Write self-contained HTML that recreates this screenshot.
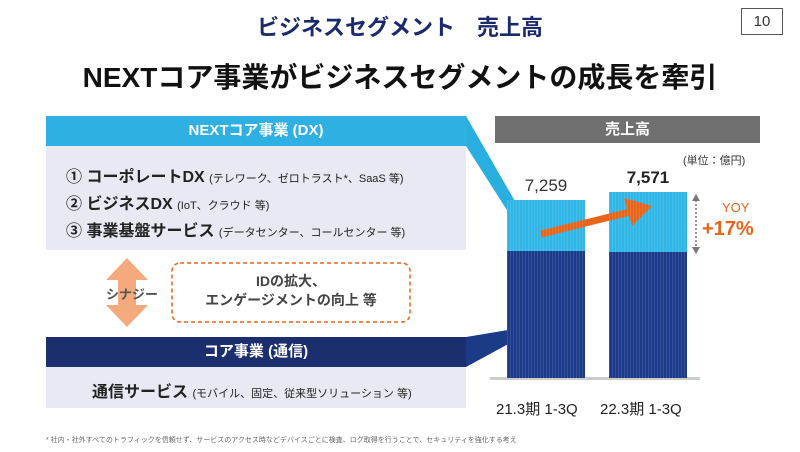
<!DOCTYPE html>
<html><head><meta charset="utf-8"><style>
body{margin:0;width:800px;height:452px;background:#fff;position:relative;overflow:hidden;font-family:"Liberation Sans","Noto Sans CJK JP",sans-serif;}
.a{position:absolute;white-space:nowrap}
.bar{position:absolute;background:repeating-linear-gradient(90deg,rgba(255,255,255,.12) 0 1px,transparent 1px 3px)}
</style></head><body>
<div class="a" style="left:0;width:800px;top:10px;text-align:center;font-size:22px;font-weight:bold;color:#1a2a6c">ビジネスセグメント　売上高</div>
<div class="a" style="left:741px;top:8px;width:40px;height:25px;border:1px solid #555;text-align:center;font-size:15px;line-height:25px;color:#333">10</div>
<div class="a" style="left:0;width:800px;top:56px;text-align:center;font-size:28px;font-weight:bold;color:#111">NEXTコア事業がビジネスセグメントの成長を牽引</div>

<svg class="a" style="left:0;top:0" width="800" height="452">
<polygon points="466,116 466,146 510,215 520,210" fill="#29aee0"/>
<polygon points="466,337 466,367 512,342 508,330" fill="#1b3b86"/>
<rect x="495" y="116" width="265" height="27" fill="#707070"/>
<rect x="490" y="377" width="210" height="3" fill="#ccc"/>
<rect x="507" y="200" width="78" height="51" fill="#2fb6e6"/>
<rect x="507" y="251" width="78" height="127" fill="#1c3a8a"/>
<rect x="609" y="192" width="78" height="60" fill="#2fb6e6"/>
<rect x="609" y="252" width="78" height="126" fill="#1c3a8a"/>
<line x1="541" y1="234" x2="630" y2="212" stroke="#e8641b" stroke-width="7"/>
<polygon points="652,206 624,198 632,226" fill="#e8641b"/>
<line x1="696" y1="200" x2="696" y2="248" stroke="#777" stroke-width="1.5" stroke-dasharray="2,2"/>
<polygon points="692,201 700,201 696,194" fill="#777"/><polygon points="692,247 700,247 696,254" fill="#777"/>
<polygon points="127,258 148,280 136,280 136,305 148,305 127,327 106,305 118,305 118,280 106,280" fill="#f5aa7e"/>
<rect x="172" y="263" width="238" height="59" rx="8" fill="none" stroke="#e8641b" stroke-width="1.5" stroke-dasharray="4,3"/>
</svg>
<div class="bar" style="left:507px;top:200px;width:78px;height:178px"></div>
<div class="bar" style="left:609px;top:192px;width:78px;height:186px"></div>
<div class="a" style="left:495px;top:116px;width:265px;line-height:27px;text-align:center;color:#fff;font-weight:bold;font-size:15px">売上高</div>
<div class="a" style="left:683px;top:152px;font-size:11px;color:#333">(単位：億円)</div>
<div class="a" style="left:507px;width:78px;top:176px;text-align:center;font-size:17px;color:#333">7,259</div>
<div class="a" style="left:609px;width:78px;top:168px;text-align:center;font-size:17px;font-weight:bold;color:#222">7,571</div>
<div class="a" style="left:722px;top:200px;font-size:13px;color:#e8641b">YOY</div>
<div class="a" style="left:702px;top:218px;font-size:20px;font-weight:bold;color:#e8641b">+17%</div>
<div class="a" style="left:496px;top:398px;font-size:15px;color:#222">21.3期 1-3Q</div>
<div class="a" style="left:600px;top:398px;font-size:15px;color:#222">22.3期 1-3Q</div>

<div class="a" style="left:46px;top:116px;width:420px;height:30px;background:#2fb0e2;color:#fff;text-align:center;line-height:30px;font-weight:bold;font-size:15px">NEXTコア事業 (DX)</div>
<div class="a" style="left:46px;top:146px;width:420px;height:104px;background:#e8e9f3"></div>
<div class="a" style="left:66px;top:163px;font-size:16px;font-weight:bold;color:#222">① コーポレートDX <span style="font-size:11px;font-weight:normal">(テレワーク、ゼロトラスト*、SaaS 等)</span></div>
<div class="a" style="left:66px;top:190px;font-size:16px;font-weight:bold;color:#222">② ビジネスDX <span style="font-size:11px;font-weight:normal">(IoT、クラウド 等)</span></div>
<div class="a" style="left:66px;top:217px;font-size:16px;font-weight:bold;color:#222">③ 事業基盤サービス <span style="font-size:11px;font-weight:normal">(データセンター、コールセンター 等)</span></div>
<div class="a" style="left:106px;top:284px;font-size:13px;font-weight:bold;color:#555">シナジー</div>
<div class="a" style="left:172px;width:238px;top:272px;text-align:center;font-size:14px;font-weight:bold;color:#444;line-height:19px">IDの拡大、<br>エンゲージメントの向上 等</div>
<div class="a" style="left:46px;top:337px;width:420px;height:30px;background:#1b2f6e;color:#fff;text-align:center;line-height:30px;font-weight:bold;font-size:15px">コア事業 (通信)</div>
<div class="a" style="left:46px;top:367px;width:420px;height:41px;background:#e8e9f3"></div>
<div class="a" style="left:92px;top:378px;font-size:16px;font-weight:bold;color:#222">通信サービス <span style="font-size:11px;font-weight:normal">(モバイル、固定、従来型ソリューション 等)</span></div>
<div class="a" style="left:46px;top:435px;font-size:7px;color:#666">* 社内・社外すべてのトラフィックを信頼せず、サービスのアクセス時などデバイスごとに検査、ログ取得を行うことで、セキュリティを強化する考え</div>
</body></html>
